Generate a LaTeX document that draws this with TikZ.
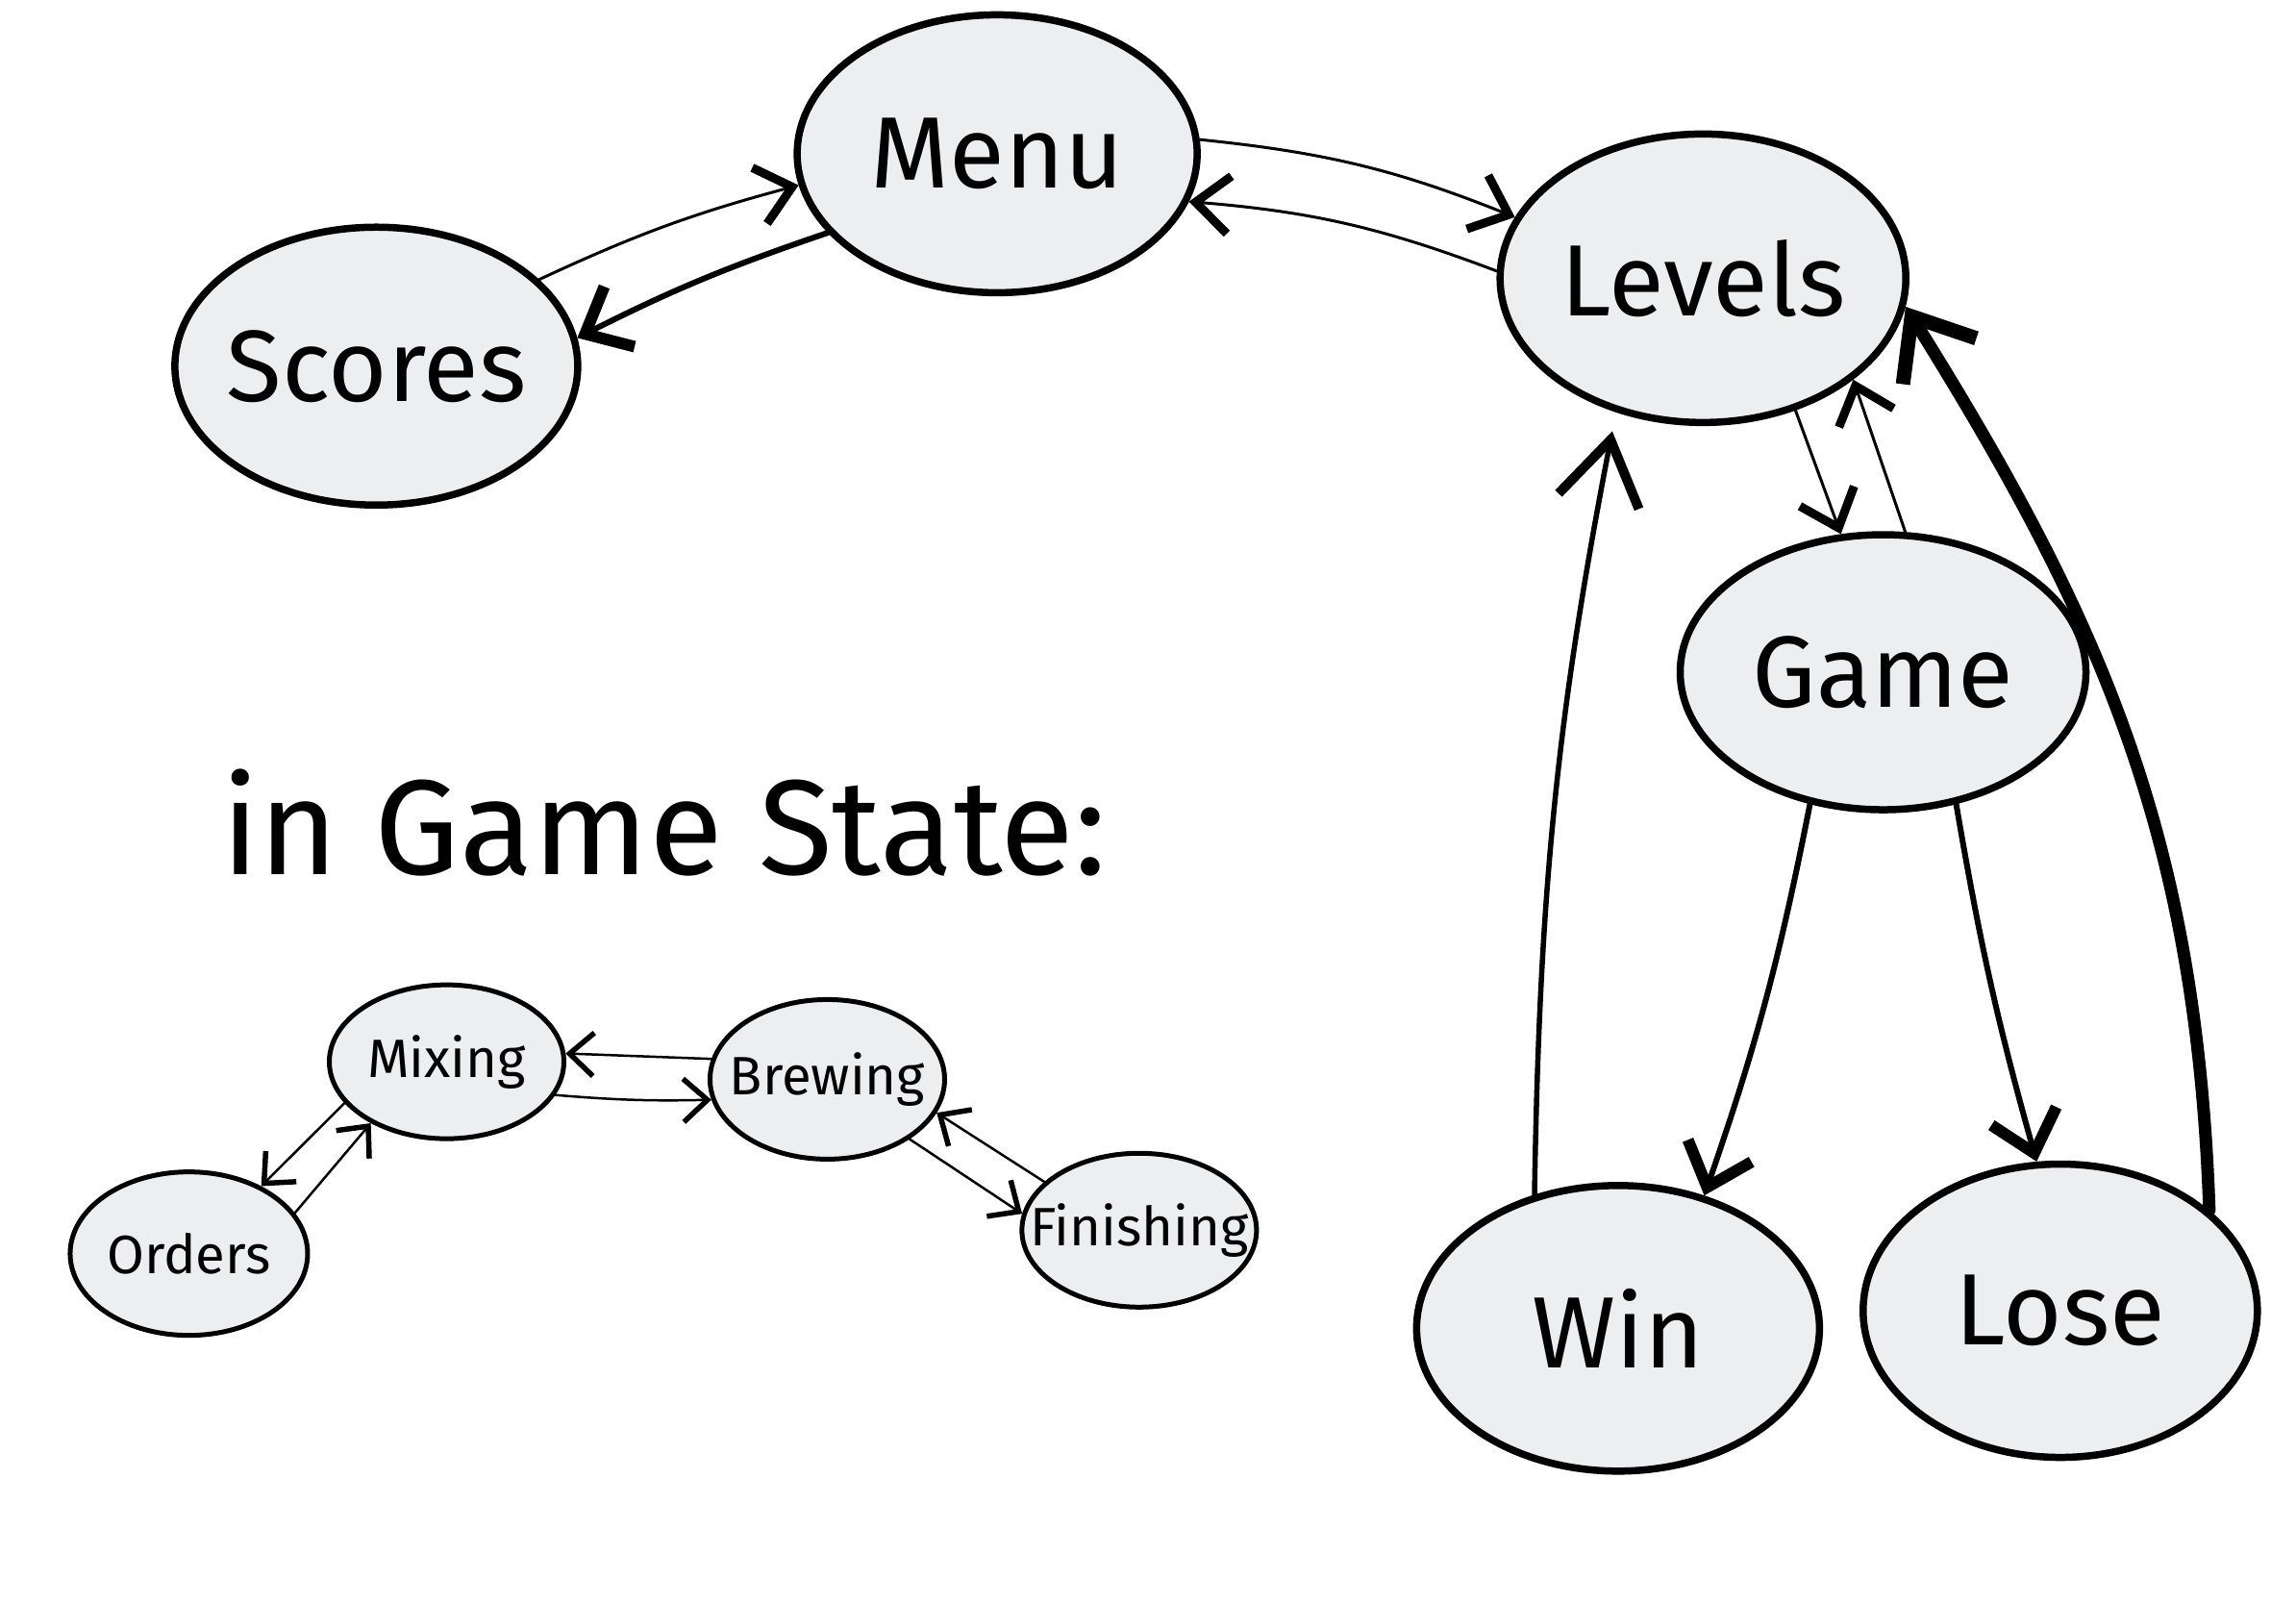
\documentclass[tikz,border=0pt]{standalone}
\usepackage{fontspec}
\setmainfont{Fira Sans}
\usetikzlibrary{arrows.meta,shapes.geometric}
\definecolor{stategray}{HTML}{EDEEF0}
\tikzset{
	state/.style={ellipse, draw, line width=0.75mm, fill=stategray, inner xsep=-6mm, inner ysep=0pt, font=\fontsize{30}{36}\selectfont},
	substate/.style={ellipse, draw, line width=0.5mm, fill=stategray, inner xsep=-3mm, inner ysep=0pt, font=\fontsize{16}{19}\selectfont},
	link/.style={line width=0.3mm, line cap=round, -{Straight Barb[length=3.5mm,width=6mm,line width=0.9mm]}},
	heavylink/.style={line width=0.6mm, line cap=round, -{Straight Barb[length=4mm,width=7mm,line width=1.2mm]}},
	biglink/.style={line width=0.55mm, line cap=round, -{Straight Barb[length=6.5mm,width=8.5mm,line width=1mm]}},
	hugelink/.style={line width=1.3mm, line cap=round, -{Straight Barb[length=5.5mm,width=9mm,line width=1.5mm]}},
	sublink/.style={line width=0.25mm, line cap=round, -{Straight Barb[length=2.5mm,width=4.5mm,line width=0.55mm]}}
}

\begin{document}
\begin{tikzpicture}[x=0.1523mm, y=0.1523mm]
	%%%%% START %%%%%
	\useasboundingbox (0, 0) rectangle (1568, -1095);

	\node[state, minimum width=41.6mm, minimum height=28.9mm] (menu) at (681, -105) {Menu};
	\node[state, minimum width=41.9mm, minimum height=28.9mm] (scores) at (257, -250) {Scores};
	\node[state, minimum width=42.2mm, minimum height=30mm] (levels) at (1163, -190) {Levels};
	\node[state, minimum width=42.2mm, minimum height=28.6mm] (game) at (1286, -459) {Game};
	\node[state, minimum width=41.9mm, minimum height=29.7mm] (win) at (1105, -907) {Win};
	\node[state, minimum width=41mm, minimum height=30.5mm] (lose) at (1407, -895) {Lose};

	\node[font=\fontsize{40}{48}\selectfont, anchor=west] (title) at (143, -562) {in Game State:};

	\node[substate, minimum width=24.4mm, minimum height=16mm] (mixing) at (305, -725) {Mixing};
	\node[substate, minimum width=24.4mm, minimum height=16.6mm] (brewing) at (565, -737) {Brewing};
	\node[substate, minimum width=24.7mm, minimum height=17mm] (orders) at (129, -856) {Orders};
	\node[substate, minimum width=24.4mm, minimum height=16mm] (finishing) at (778, -840) {Finishing};

	% top row
	\draw[link] (scores.28) to[bend left=5] (menu.189);
	\draw[heavylink] (menu.205) to[bend right=4] (scores.8);
	\draw[link] (menu.4) to[bend left=8] (levels.162);
	\draw[link] (levels.178) to[bend right=8] (menu.-14);

	% levels and game
	\draw[link] (levels.-55) -- (game.107);
	\draw[link] (game.81) -- (levels.-34);
	\draw[heavylink] (game.241) to[bend left=4] (win.57);
	\draw[heavylink] (game.-61) to[bend right=3] (lose.99);
	\draw[biglink, shorten >=2mm] (win.122) to[bend left=5] (levels.237);
	\draw[hugelink] (lose.34) to[out=92, in=-58] (levels.-8);

	% inside the game state
	\draw[sublink] (orders.21) -- (mixing.219);
	\draw[sublink] (mixing.202) -- (orders.43);
	\draw[sublink] (mixing.-17) to[bend right=3] (brewing.190);
	\draw[sublink] (brewing.170) -- (mixing.4);
	\draw[sublink] (brewing.-36) -- (finishing.172);
	\draw[sublink] (finishing.153) -- (brewing.-17);

	%%%%% END %%%%%
\end{tikzpicture}
\end{document}
